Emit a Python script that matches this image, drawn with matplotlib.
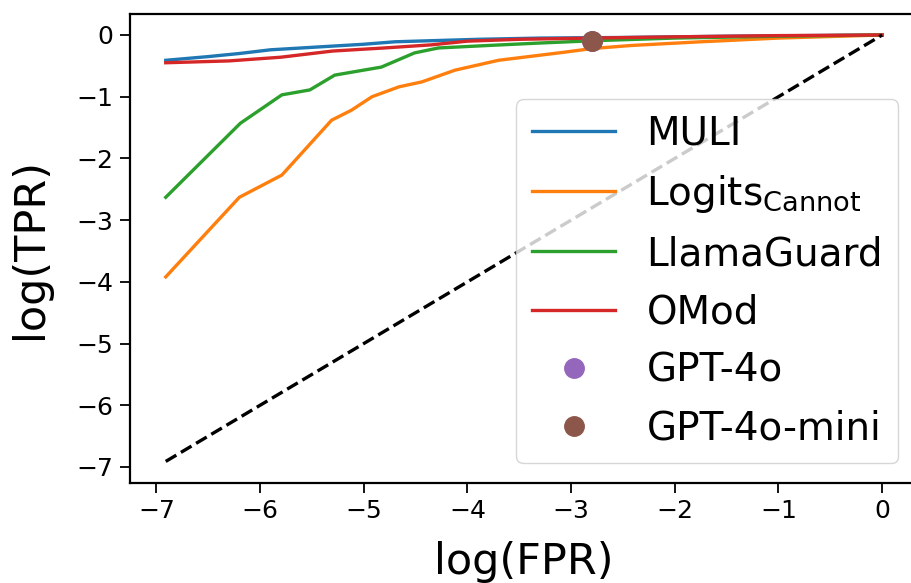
import numpy as np
import matplotlib
matplotlib.use("Agg")
from matplotlib import pyplot as plt

# ROC curves in log space
muli_x = [-6.91, -6.5, -6.2, -5.9, -5.5, -5.0, -4.7, -4.3, -3.9, -3.3, -2.5, -1.5, 0.0]
muli_y = [-0.41, -0.35, -0.30, -0.24, -0.20, -0.15, -0.11, -0.09, -0.07, -0.05, -0.04, -0.02, 0.0]

logits_x = [-6.91, -6.2, -5.79, -5.31, -5.12, -4.92, -4.66, -4.44, -4.12, -3.70, -3.07, -2.8, -2.42, -1.75, -1.0, 0.0]
logits_y = [-3.92, -2.63, -2.27, -1.38, -1.22, -1.00, -0.84, -0.76, -0.57, -0.41, -0.28, -0.22, -0.17, -0.11, -0.05, 0.0]

llama_x = [-6.91, -6.19, -5.79, -5.52, -5.28, -4.83, -4.51, -4.28, -3.8, -3.3, -2.74, -2.0, -1.0, 0.0]
llama_y = [-2.63, -1.43, -0.97, -0.89, -0.65, -0.52, -0.29, -0.21, -0.17, -0.13, -0.09, -0.05, -0.02, 0.0]

omod_x = [-6.91, -6.3, -5.8, -5.3, -4.8, -4.35, -4.0, -3.5, -2.8, -2.0, -1.0, 0.0]
omod_y = [-0.45, -0.42, -0.36, -0.26, -0.21, -0.16, -0.10, -0.07, -0.05, -0.03, -0.01, 0.0]

gpt4o = (-2.8, -0.10)
gpt4o_mini = (-2.8, -0.10)

fig = plt.figure(figsize=(9.12, 5.83), dpi=100)
# axes run past the right edge, as in the cropped original
ax = fig.add_axes([0.1425, 0.172, 0.864, 0.8045])

lw = 2.4
ax.plot(muli_x, muli_y, color='tab:blue', lw=lw, label='MULI')
ax.plot(logits_x, logits_y, color='tab:orange', lw=lw, label=r'Logits$_{\mathregular{Cannot}}$')
ax.plot(llama_x, llama_y, color='tab:green', lw=lw, label='LlamaGuard')
ax.plot(omod_x, omod_y, color='tab:red', lw=lw, label='OMod')
ax.plot([gpt4o[0]], [gpt4o[1]], 'o', color='tab:purple', ms=14, label='GPT-4o')
ax.plot([gpt4o_mini[0]], [gpt4o_mini[1]], 'o', color='tab:brown', ms=14, label='GPT-4o-mini')

diag = np.array([-6.91, 0.0])
ax.plot(diag, diag, 'k--', lw=2.4)

ax.set_xlim(-7.255, 0.345)
ax.set_ylim(-7.255, 0.345)
ax.set_xticks(range(-7, 1))
ax.set_yticks(range(-7, 1))
ax.tick_params(labelsize=18, width=1.3, length=7, pad=5)
for s in ax.spines.values():
    s.set_linewidth(1.6)

ax.set_xlabel('log(FPR)', fontsize=31, labelpad=13)
ax.set_ylabel('log(TPR)', fontsize=31, labelpad=18)
ax.legend(loc='lower right', fontsize=28, handlelength=2.15, labelspacing=0.52)

plt.savefig("out.png", dpi=100)
